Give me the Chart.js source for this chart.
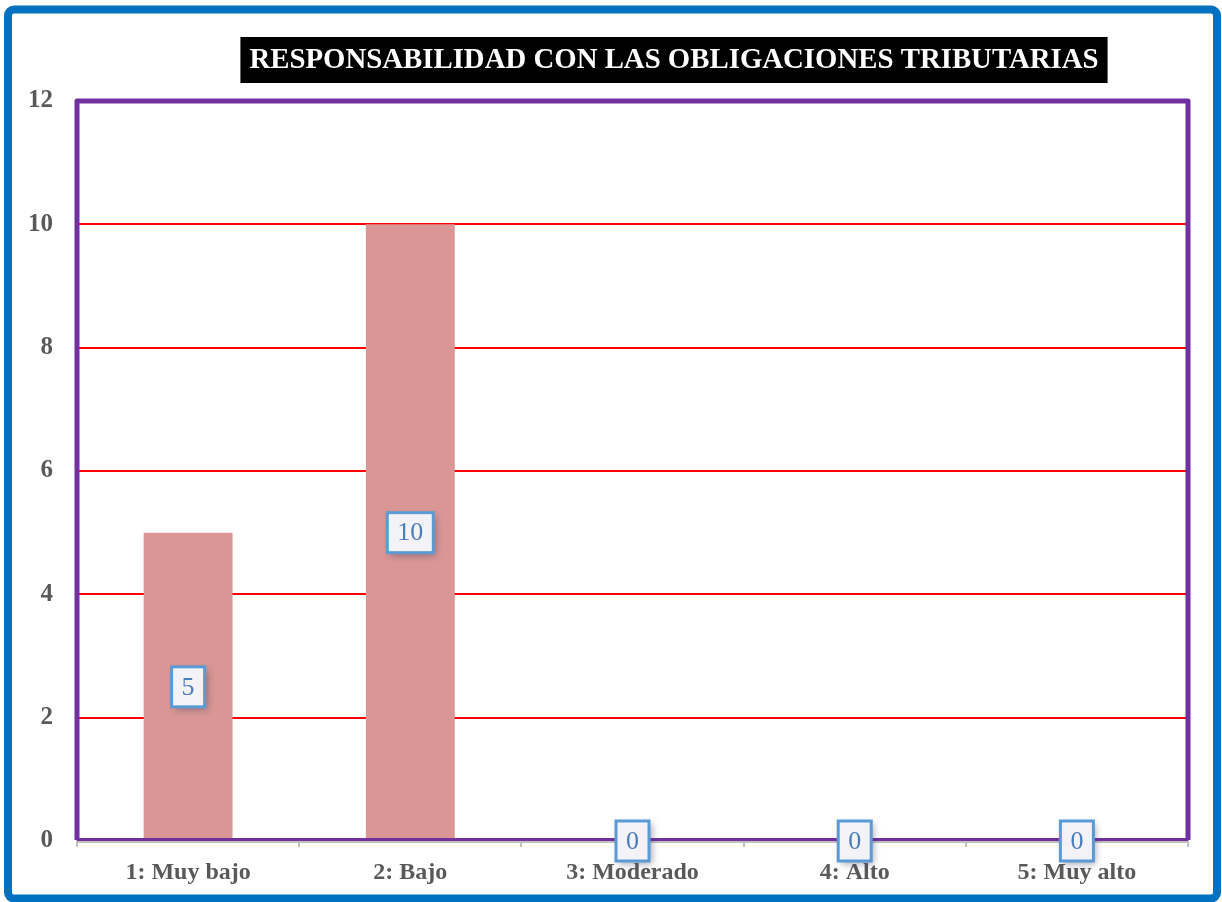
<!DOCTYPE html>
<html>
<head>
<meta charset="utf-8">
<script src="https://cdn.jsdelivr.net/npm/chart.js@4"></script>
<style>
  html, body { margin: 0; padding: 0; background: #ffffff; }
  #wrap { width: 1222px; height: 902px; }
</style>
</head>
<body>
<div id="wrap"><canvas id="c" width="1222" height="902"></canvas></div>
<script>
const chartTitle = 'RESPONSABILIDAD CON LAS OBLIGACIONES TRIBUTARIAS';
const categories = ['1: Muy bajo', '2: Bajo', '3: Moderado', '4: Alto', '5: Muy alto'];
const values = [5, 10, 0, 0, 0];
const yTicks = [0, 2, 4, 6, 8, 10, 12];

const SERIF = '"Liberation Serif", "DejaVu Serif", serif';

const framePlugin = {
  id: 'frame',
  beforeDraw(chart) {
    const ctx = chart.ctx;
    ctx.save();
    ctx.fillStyle = '#ffffff';
    ctx.fillRect(0, 0, chart.width, chart.height);
    // outer blue border
    ctx.strokeStyle = '#0070c0';
    ctx.lineWidth = 8;
    ctx.beginPath();
    ctx.roundRect(8, 9.5, 1209, 889, 6);
    ctx.stroke();
    // title with black box
    ctx.font = 'bold 28.8px ' + SERIF;
    const w = ctx.measureText(chartTitle).width;
    const cx = 674;
    ctx.fillStyle = '#000000';
    ctx.fillRect(cx - w / 2 - 9, 37, w + 18, 46);
    ctx.fillStyle = '#ffffff';
    ctx.textAlign = 'center';
    ctx.textBaseline = 'middle';
    ctx.fillText(chartTitle, cx, 61);
    ctx.restore();
  },
  afterDatasetsDraw(chart) {
    const { ctx, chartArea: a } = chart;
    ctx.save();
    ctx.strokeStyle = '#7030a0';
    ctx.lineWidth = 5;
    ctx.lineJoin = 'round';
    ctx.beginPath();
    ctx.moveTo(a.left, a.bottom - 1);
    ctx.lineTo(a.left, a.top);
    ctx.lineTo(a.right, a.top);
    ctx.lineTo(a.right, a.bottom - 1);
    ctx.stroke();
    ctx.lineWidth = 3;
    ctx.beginPath();
    ctx.moveTo(a.left, a.bottom - 1.5);
    ctx.lineTo(a.right, a.bottom - 1.5);
    ctx.stroke();
    ctx.restore();

    const meta = chart.getDatasetMeta(0);
    const yScale = chart.scales.y;
    ctx.save();
    ctx.font = '26px ' + SERIF;
    meta.data.forEach((bar, i) => {
      const v = chart.data.datasets[0].data[i];
      const txt = String(v);
      const cy = yScale.getPixelForValue(v / 2);
      const cx = bar.x;
      const tw = ctx.measureText(txt).width;
      const bw = tw + 20, bh = 40;
      ctx.save();
      ctx.shadowColor = 'rgba(60,60,90,0.45)';
      ctx.shadowBlur = 7;
      ctx.shadowOffsetX = 3;
      ctx.shadowOffsetY = 3;
      ctx.fillStyle = '#f3f2f7';
      ctx.fillRect(cx - bw / 2, cy - bh / 2, bw, bh);
      ctx.restore();
      ctx.strokeStyle = '#5b9bd5';
      ctx.lineWidth = 3;
      ctx.strokeRect(cx - bw / 2, cy - bh / 2, bw, bh);
      ctx.fillStyle = '#4a7ebb';
      ctx.textAlign = 'center';
      ctx.textBaseline = 'middle';
      ctx.fillText(txt, cx, cy + 1);
    });
    ctx.restore();
  }
};

new Chart(document.getElementById('c'), {
  type: 'bar',
  data: {
    labels: categories,
    datasets: [{
      data: values,
      backgroundColor: '#d99694',
      borderWidth: 0,
      barPercentage: 0.8,
      categoryPercentage: 0.5
    }]
  },
  options: {
    responsive: false,
    animation: false,
    layout: { padding: { top: 101, right: 34, left: 0, bottom: 0 } },
    plugins: { legend: { display: false }, tooltip: { enabled: false }, title: { display: false } },
    scales: {
      x: {
        afterFit(s) { s.height = 61; },
        grid: { drawOnChartArea: false, drawTicks: true, tickLength: 6, color: '#bfbfbf', lineWidth: 2, offset: true },
        border: { display: true, color: '#bfbfbf', width: 3 },
        ticks: { color: '#595959', font: { family: SERIF, size: 24, weight: 'bold' }, padding: 11 }
      },
      y: {
        min: 0, max: 12,
        afterFit(s) { s.width = 77; },
        afterBuildTicks(s) { s.ticks = yTicks.map(v => ({ value: v })); },
        grid: { color: (c) => (c.tick && (c.tick.value === 0 || c.tick.value === 12)) ? 'rgba(0,0,0,0)' : '#ff0000', lineWidth: 2, drawTicks: false },
        border: { display: false },
        ticks: { color: '#595959', font: { family: SERIF, size: 25, weight: 'bold' }, padding: 24 }
      }
    }
  },
  plugins: [framePlugin]
});
</script>
</body>
</html>
